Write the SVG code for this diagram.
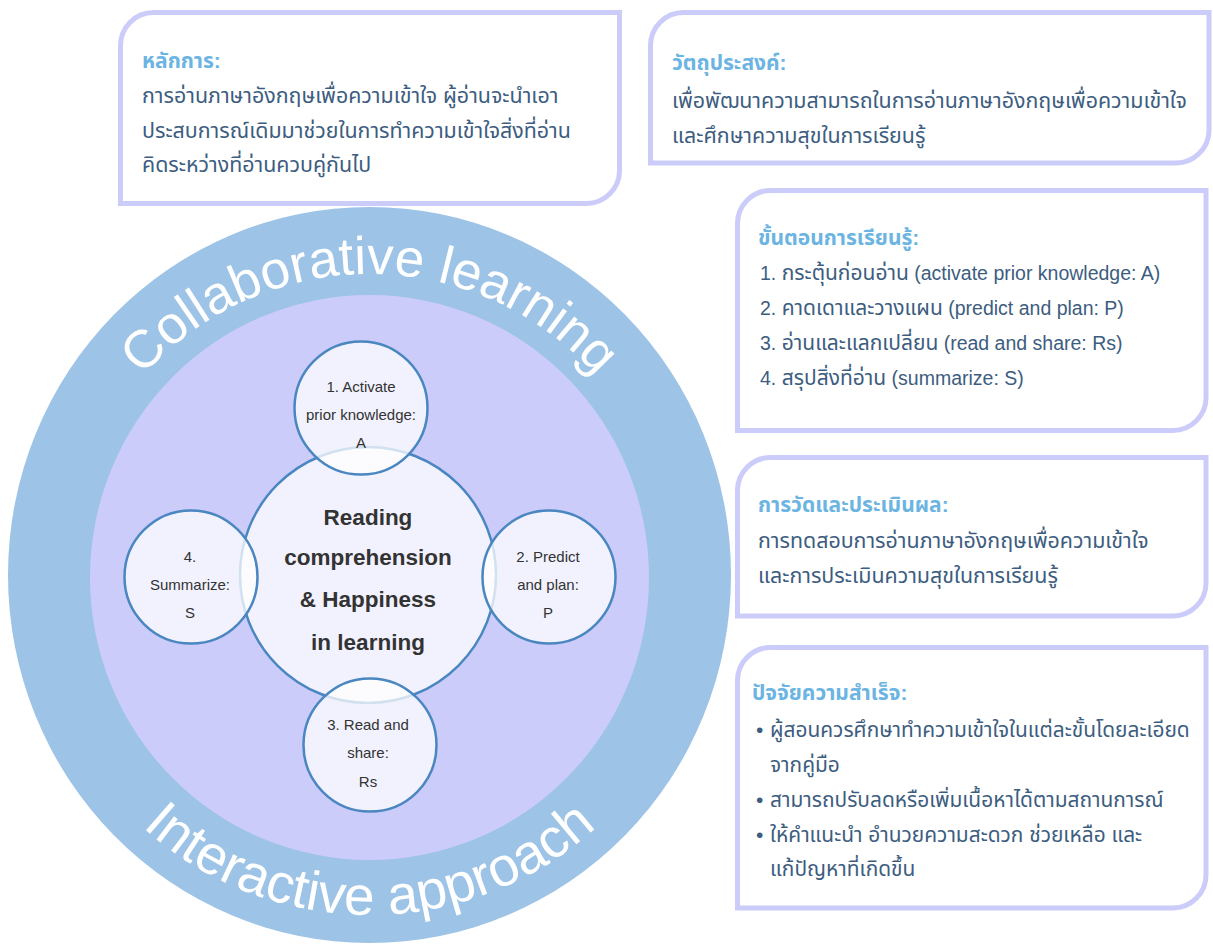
<svg xmlns="http://www.w3.org/2000/svg" width="1213" height="945" viewBox="0 0 1213 945">
<style>
.box{fill:#ffffff;stroke:#ccccfa;stroke-width:5}
.ttl{font-family:"Liberation Sans","Noto Sans Thai",sans-serif;font-size:21px;font-weight:bold;fill:#6cb4e2}
.bd{font-family:"Liberation Sans","Noto Sans Thai",sans-serif;font-size:21.4px;fill:#3d5d80}
.bd.f{font-size:20.9px}
.th{font-size:21px}
.lat{font-size:19.5px}
.ring{font-family:"Liberation Sans",Arial,sans-serif;fill:#ffffff}
.node{fill:#ffffff;fill-opacity:0.75;stroke:#4a86c0;stroke-width:2.5}
.ctr{font-family:"Liberation Sans",Arial,sans-serif;font-size:22.5px;font-weight:bold;fill:#333333;text-anchor:middle}
.sm{font-family:"Liberation Sans",Arial,sans-serif;font-size:15px;fill:#333333;text-anchor:middle}
</style>
<defs>
<path id="arcTop" d="M 66.5,577 A 303 303 0 0 1 672.5,577"/>
<path id="arcBot" d="M 31.5,577 A 338 338 0 0 0 707.5,577"/>
</defs>
<rect width="1213" height="945" fill="#ffffff"/>

<g id="rings">
<ellipse cx="369.5" cy="575" rx="361.5" ry="368" fill="#9dc3e6"/>
<ellipse cx="369.5" cy="577.5" rx="279.5" ry="282.5" fill="#ccccfb"/>
<text class="ring" font-size="53"><textPath href="#arcTop" startOffset="50%" text-anchor="middle">Collaborative learning</textPath></text>
<text class="ring" font-size="55"><textPath href="#arcBot" startOffset="50%" text-anchor="middle">Interactive approach</textPath></text>
</g>

<g id="center-node">
<circle class="node" cx="368" cy="575" r="128"/>
</g>
<g id="node-A">
<circle class="node" cx="361" cy="408" r="66.5"/>
<text class="sm" x="361" y="392">1. Activate</text>
<text class="sm" x="361" y="420">prior knowledge:</text>
<text class="sm" x="361" y="448">A</text>
</g>
<g id="node-P">
<circle class="node" cx="549" cy="577" r="66.5"/>
<text class="sm" x="548" y="562">2. Predict</text>
<text class="sm" x="548" y="590">and plan:</text>
<text class="sm" x="548" y="618">P</text>
</g>
<g id="node-Rs">
<circle class="node" cx="370" cy="745" r="66.5"/>
<text class="sm" x="368" y="730">3. Read and</text>
<text class="sm" x="368" y="758">share:</text>
<text class="sm" x="368" y="787">Rs</text>
</g>
<g id="node-S">
<circle class="node" cx="191" cy="577" r="66.5"/>
<text class="sm" x="190" y="562">4.</text>
<text class="sm" x="190" y="590">Summarize:</text>
<text class="sm" x="190" y="618">S</text>
</g>
<g id="center-text">
<text class="ctr" x="368" y="525">Reading</text>
<text class="ctr" x="368" y="565">comprehension</text>
<text class="ctr" x="368" y="607">&amp; Happiness</text>
<text class="ctr" x="368" y="650">in learning</text>
</g>

<g id="box-principle">
<path class="box" d="M 153.5,12.5 H 619.5 V 170.5 A 33 33 0 0 1 586.5,203.5 H 120.5 V 45.5 A 33 33 0 0 1 153.5,12.5 Z"/>
<text class="ttl" x="142" y="68">หลักการ:</text>
<text class="bd" x="142" y="103">การอ่านภาษาอังกฤษเพื่อความเข้าใจ ผู้อ่านจะนำเอา</text>
<text class="bd" x="142" y="138">ประสบการณ์เดิมมาช่วยในการทำความเข้าใจสิ่งที่อ่าน</text>
<text class="bd" x="142" y="172">คิดระหว่างที่อ่านควบคู่กันไป</text>
</g>

<g id="box-objective">
<path class="box" d="M 683.5,12.5 H 1209 V 130 A 33 33 0 0 1 1176,163 H 650.5 V 45.5 A 33 33 0 0 1 683.5,12.5 Z"/>
<text class="ttl" x="672" y="70">วัตถุประสงค์:</text>
<text class="bd" x="672" y="108">เพื่อพัฒนาความสามารถในการอ่านภาษาอังกฤษเพื่อความเข้าใจ</text>
<text class="bd" x="672" y="143">และศึกษาความสุขในการเรียนรู้</text>
</g>

<g id="box-steps">
<path class="box" d="M 770.5,190.5 H 1206 V 397.5 A 33 33 0 0 1 1173,430.5 H 737.5 V 223.5 A 33 33 0 0 1 770.5,190.5 Z"/>
<text class="ttl" x="758" y="245">ขั้นตอนการเรียนรู้:</text>
<text class="bd" x="760" y="280"><tspan class="lat">1. </tspan><tspan class="th">กระตุ้นก่อนอ่าน</tspan><tspan class="lat"> (activate prior knowledge: A)</tspan></text>
<text class="bd" x="760" y="315"><tspan class="lat">2. </tspan><tspan class="th">คาดเดาและวางแผน</tspan><tspan class="lat"> (predict and plan: P)</tspan></text>
<text class="bd" x="760" y="350"><tspan class="lat">3. </tspan><tspan class="th">อ่านและแลกเปลี่ยน</tspan><tspan class="lat"> (read and share: Rs)</tspan></text>
<text class="bd" x="760" y="385"><tspan class="lat">4. </tspan><tspan class="th">สรุปสิ่งที่อ่าน</tspan><tspan class="lat"> (summarize: S)</tspan></text>
</g>

<g id="box-evaluation">
<path class="box" d="M 770.5,457.5 H 1206 V 583 A 33 33 0 0 1 1173,616 H 737.5 V 490.5 A 33 33 0 0 1 770.5,457.5 Z"/>
<text class="ttl" x="758" y="512">การวัดและประเมินผล:</text>
<text class="bd" x="758" y="548">การทดสอบการอ่านภาษาอังกฤษเพื่อความเข้าใจ</text>
<text class="bd" x="758" y="583">และการประเมินความสุขในการเรียนรู้</text>
</g>

<g id="box-factors">
<path class="box" d="M 770.5,647.5 H 1206 V 875 A 33 33 0 0 1 1173,908 H 737.5 V 680.5 A 33 33 0 0 1 770.5,647.5 Z"/>
<text class="ttl" x="752" y="700">ปัจจัยความสำเร็จ:</text>
<text class="bd f" x="756" y="737">•</text>
<text class="bd f" x="770" y="737">ผู้สอนควรศึกษาทำความเข้าใจในแต่ละขั้นโดยละเอียด</text>
<text class="bd f" x="770" y="772">จากคู่มือ</text>
<text class="bd f" x="756" y="807">•</text>
<text class="bd f" x="770" y="807">สามารถปรับลดหรือเพิ่มเนื้อหาได้ตามสถานการณ์</text>
<text class="bd f" x="756" y="842">•</text>
<text class="bd f" x="770" y="842">ให้คำแนะนำ อำนวยความสะดวก ช่วยเหลือ และ</text>
<text class="bd f" x="770" y="876">แก้ปัญหาที่เกิดขึ้น</text>
</g>

<g id="connectors"></g>
</svg>
